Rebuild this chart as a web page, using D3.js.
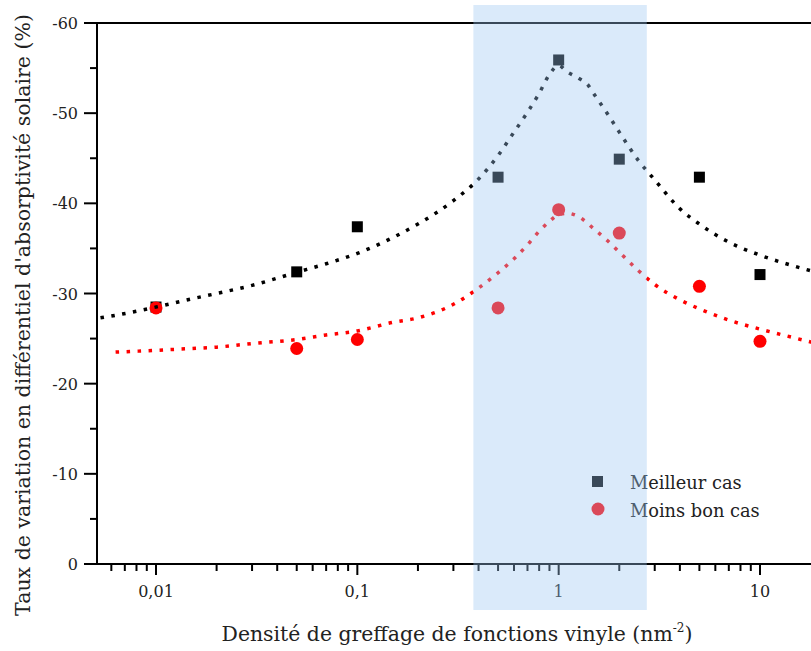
<!DOCTYPE html>
<html>
<head>
<meta charset="utf-8">
<script src="https://cdn.jsdelivr.net/npm/d3@7"></script>
<style>
  body { margin: 0; background: #fff; }
  svg { display: block; font-family: "DejaVu Serif", "Liberation Serif", serif; }
</style>
</head>
<body>
<svg id="chart" width="811" height="651"></svg>
<script>
// grafting density (nm^-2)
const densities = [0.01, 0.05, 0.1, 0.5, 1, 2, 5, 10];
const bestCase = [-28.5, -32.4, -37.4, -42.9, -55.9, -44.9, -42.9, -32.1];
const worstCase = [-28.4, -23.9, -24.9, -28.4, -39.3, -36.7, -30.8, -24.7];

// dotted guide curves
const fitX = [0.0053, 0.006, 0.01, 0.015, 0.02, 0.03, 0.05, 0.07, 0.1, 0.15, 0.2, 0.3, 0.4, 0.5, 0.6, 0.7, 0.8, 0.9, 1, 1.1, 1.25, 1.4, 1.5, 1.75, 2, 2.5, 3, 4, 5, 7, 10, 15, 18];
const fitBest = [-27.3, -27.5, -28.5, -29.4, -30.0, -30.9, -32.35, -33.3, -34.45, -36.2, -37.7, -40.3, -42.7, -45.3, -47.9, -50.1, -52.2, -54.3, -55.3, -54.6, -53.9, -53.1, -52.1, -49.9, -47.9, -44.7, -42.6, -39.4, -37.7, -35.7, -34.25, -33.0, -32.5];
const fitWorstX = [0.0063, 0.01, 0.015, 0.02, 0.03, 0.05, 0.07, 0.1, 0.15, 0.2, 0.3, 0.4, 0.5, 0.6, 0.7, 0.8, 0.9, 1, 1.1, 1.25, 1.5, 1.75, 2, 2.5, 3, 4, 5, 7, 10, 15, 18];
const fitWorst = [-23.5, -23.7, -23.9, -24.05, -24.45, -24.9, -25.4, -25.85, -26.8, -27.3, -28.8, -30.6, -32.3, -33.85, -35.4, -36.9, -38.0, -38.75, -38.9, -38.55, -37.15, -35.85, -34.6, -32.5, -31.0, -29.3, -28.3, -27.05, -26.05, -25.05, -24.6];

const yTicks = [0, -10, -20, -30, -40, -50, -60];
const xTickLabels = { 0.01: "0,01", 0.1: "0,1", 1: "1", 10: "10" };
const band = [0.377, 2.74];
const legendNames = ["Meilleur cas", "Moins bon cas"];

const svg = d3.select("#chart");
const plotLeft = 97, plotTop = 23, plotBottom = 564;

const x = d3.scaleLog().domain([0.01, 10]).range([156, 760]);
const y = d3.scaleLinear().domain([0, -60]).range([plotBottom, plotTop]);
const xMin = x.invert(plotLeft), xMax = x.invert(830);

// x axis with log minor ticks
const minor = [];
for (let dec = -3; dec <= 1; dec++) {
  for (let m = 1; m <= 9; m++) {
    const v = m * Math.pow(10, dec);
    if (v >= xMin * 0.999 && v <= xMax) minor.push(v);
  }
}
const xAxis = svg.append("g").attr("transform", `translate(0,${plotBottom})`);
xAxis.append("line").attr("x1", plotLeft).attr("x2", 811).attr("stroke", "#000").attr("stroke-width", 2);
xAxis.selectAll(".xt").data(minor).enter().append("line")
  .attr("x1", d => x(d)).attr("x2", d => x(d))
  .attr("y1", 0).attr("y2", d => xTickLabels[d] ? 11 : 7)
  .attr("stroke", "#000").attr("stroke-width", 2);
xAxis.selectAll(".xl").data(Object.keys(xTickLabels).map(Number)).enter().append("text")
  .attr("x", d => x(d)).attr("y", 33).attr("text-anchor", "middle")
  .attr("font-size", 16).attr("fill", "#222").text(d => xTickLabels[d]);

// y axis
const yAxis = svg.append("g");
yAxis.append("line").attr("x1", plotLeft).attr("x2", plotLeft).attr("y1", plotTop).attr("y2", plotBottom)
  .attr("stroke", "#000").attr("stroke-width", 2);
yAxis.append("line").attr("x1", plotLeft).attr("x2", 811).attr("y1", plotTop).attr("y2", plotTop)
  .attr("stroke", "#000").attr("stroke-width", 2);
const yMinor = d3.range(-55, 0, 10);
yAxis.selectAll(".ym").data(yMinor).enter().append("line")
  .attr("x1", plotLeft - 7).attr("x2", plotLeft).attr("y1", d => y(d)).attr("y2", d => y(d))
  .attr("stroke", "#000").attr("stroke-width", 2);
yAxis.selectAll(".yt").data(yTicks).enter().append("line")
  .attr("x1", plotLeft - 13).attr("x2", plotLeft).attr("y1", d => y(d)).attr("y2", d => y(d))
  .attr("stroke", "#000").attr("stroke-width", 2);
yAxis.selectAll(".yl").data(yTicks).enter().append("text")
  .attr("x", 78).attr("y", d => y(d) + 6).attr("text-anchor", "end")
  .attr("font-size", 16).attr("fill", "#222").text(d => d);

// axis titles
svg.append("text").attr("transform", "translate(30,315) rotate(-90)")
  .attr("text-anchor", "middle").attr("font-size", 20.5).attr("fill", "#222")
  .text("Taux de variation en différentiel d'absorptivité solaire (%)");
const xt = svg.append("text").attr("x", 457).attr("y", 641).attr("text-anchor", "middle")
  .attr("font-size", 20.4).attr("fill", "#222");
xt.append("tspan").text("Densité de greffage de fonctions vinyle (nm");
xt.append("tspan").attr("dy", -9).attr("font-size", 12).text("-2");
xt.append("tspan").attr("dy", 9).text(")");

// markers
const plot = svg.append("g");
plot.selectAll(".sq").data(densities).enter().append("rect")
  .attr("x", (d, i) => x(d) - 5.5).attr("y", (d, i) => y(bestCase[i]) - 5.5)
  .attr("width", 11).attr("height", 11).attr("fill", "#000");
plot.selectAll(".ci").data(densities).enter().append("circle")
  .attr("cx", d => x(d)).attr("cy", (d, i) => y(worstCase[i])).attr("r", 6.5).attr("fill", "#ff0000");

// dotted curves
const line = d3.line().x(d => x(d[0])).y(d => y(d[1])).curve(d3.curveMonotoneX);
plot.append("path").datum(fitX.map((v, i) => [v, fitBest[i]]))
  .attr("d", line).attr("fill", "none").attr("stroke", "#000")
  .attr("stroke-width", 3.5).attr("stroke-dasharray", "3.5,7.5");
plot.append("path").datum(fitWorstX.map((v, i) => [v, fitWorst[i]]))
  .attr("d", line).attr("fill", "none").attr("stroke", "#ff0000")
  .attr("stroke-width", 3.5).attr("stroke-dasharray", "3.5,7.5");

// legend
const lg = svg.append("g");
lg.append("rect").attr("x", 592).attr("y", 476).attr("width", 11).attr("height", 11).attr("fill", "#000");
lg.append("circle").attr("cx", 598).attr("cy", 509).attr("r", 6.5).attr("fill", "#ff0000");
lg.selectAll(".lt").data(legendNames).enter().append("text")
  .attr("x", 630).attr("y", (d, i) => 489 + i * 28)
  .attr("font-size", 17.8).attr("fill", "#222").text(d => d);

// highlighted band overlaid on top
svg.append("rect")
  .attr("x", x(band[0])).attr("width", x(band[1]) - x(band[0]))
  .attr("y", 5).attr("height", 605)
  .attr("fill", "rgb(155,198,241)").attr("fill-opacity", 0.37);
</script>
</body>
</html>
